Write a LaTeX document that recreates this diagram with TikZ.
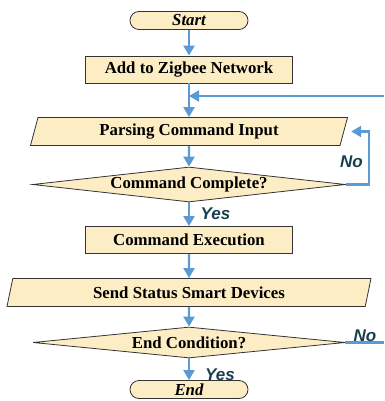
\documentclass[tikz,border=0pt]{standalone}
\usepackage{fontspec}
\setmainfont{Liberation Serif}
\newfontfamily\answerfont{Liberation Sans}
\usetikzlibrary{shapes.geometric,arrows.meta}

\definecolor{boxfill}{HTML}{FCEDC5}
\definecolor{flowblue}{HTML}{5B9BD5}
\definecolor{answerteal}{HTML}{17404F}

\tikzset{
  base/.style={draw=black!80, fill=boxfill, line width=0.8pt, inner sep=0pt,
    font=\fontsize{16.8}{18}\selectfont\bfseries},
  terminal/.style={base, rectangle, rounded corners=9pt, minimum width=118pt,
    minimum height=18pt, font=\fontsize{16.8}{18}\selectfont\bfseries\itshape},
  process/.style={base, rectangle, minimum width=207pt, minimum height=27pt},
  io/.style={base, trapezium, trapezium left angle=64, trapezium right angle=116,
    trapezium stretches body, minimum height=28pt},
  decision/.style={base, diamond, aspect=9},
  flow/.style={draw=flowblue, line width=2.2pt, -{Triangle[width=11pt,length=10pt]}},
  plainflow/.style={draw=flowblue, line width=2.2pt},
  answer/.style={text=answerteal, inner sep=0pt,
    font=\answerfont\fontsize{17}{19}\selectfont\bfseries\itshape},
}

\begin{document}
\begin{tikzpicture}[x=1pt,y=-1pt]
  \useasboundingbox (0,0) rectangle (384,401);

  % steps
  \node[terminal] (start) at (189,20.5) {Start};
  \node[process] (zigbee) at (189,69.5) {Add to Zigbee Network};
  \node[io, minimum width=317pt] (parse) at (189,131.5) {Parsing Command Input};
  \node[decision, minimum width=313pt, minimum height=35pt] (complete) at (189,184.5) {Command Complete?};
  \node[process] (exec) at (189,240) {Command Execution};
  \node[io, minimum width=364pt] (status) at (189,292.5) {Send Status Smart Devices};
  \node[decision, minimum width=312pt, minimum height=31pt] (endcond) at (189,342.5) {End Condition?};
  \node[terminal] (end) at (189,389.5) {End};

  % loop ends at the right edge
  \coordinate (loopin) at (384,96);
  \coordinate (loopout) at (384,342.5);

  % connectors
  \draw[flow] (start) -- (zigbee);
  \draw[flow] (zigbee) -- (parse);
  \draw[flow] (loopin) -- (zigbee.south |- loopin);
  \draw[flow] (parse) -- (complete);
  \draw[flow] (complete.east) -- ++(23,0) |- ([xshift=7pt]parse.east);
  \draw[flow] (complete) -- (exec);
  \draw[flow] (exec) -- (status);
  \draw[flow] (status) -- (endcond);
  \draw[plainflow] (endcond.east) -- (loopout);
  \draw[flow] (endcond) -- (end);

  % answers
  \node[answer] (no1) at (351.5,161.5) {No};
  \node[answer] (yes1) at (215.5,213.5) {Yes};
  \node[answer] (no2) at (365,335.5) {No};
  \node[answer] (yes2) at (220,374.5) {Yes};
\end{tikzpicture}
\end{document}
